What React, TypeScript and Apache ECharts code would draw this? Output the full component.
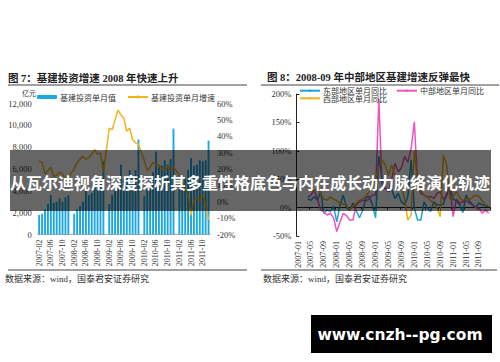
import React, { useEffect, useRef } from 'react';
import * as echarts from 'echarts';

const SERIF = '"Liberation Serif", "Noto Sans CJK SC", serif';
const CJK = '"Noto Sans CJK SC", sans-serif';

function months(y: number, m: number, n: number): string[] {
  const out: string[] = [];
  for (let k = 0; k < n; k++) {
    const mm = m - 1 + k;
    out.push(`${y + Math.floor(mm / 12)}-${String((mm % 12) + 1).padStart(2, '0')}`);
  }
  return out;
}

// Left chart: 2007-02 .. 2011-12
const leftMonths = months(2007, 2, 59);
const infraMonthly: (number | null)[] = [
  1800, 1900, 2300, 2800, 3600, 2900, 3000, 3300, 3000, 3400, 3600, null,
  1900, 2300, 2600, 3000, 4400, 3600, 3800, 4400, 4100, 4800, 6700, null,
  2800, 3600, 4000, 4600, 6400, 5100, 5200, 5900, 5300, 5900, 8700, null,
  3500, 4300, 4800, 5700, 7600, 6200, 6300, 6800, 6400, 6900, 9700, null,
  4100, 4800, 5200, 5900, 7000, 6300, 6400, 6800, 6700, 6800, 8600,
];
const infraGrowth: (number | null)[] = [
  25, 24, 17, 19, 21, 15.6, 16, 18, 17, 13.6, 15, null,
  20, 24, 26, 28, 26, 27, 29, 32, 29, 30, 18, null,
  45, 44, 50, 56, 53, 51, 43, 45, 38, 36, 35, null,
  25, 19, 21, 24, 23, 22.5, 20, 19, 21.7, 19, 21, null,
  16.5, 12, 8, 4, -8, 1, 2, 0.5, 4.4, -1.7, -11,
];

// Right chart: 2007-01 .. 2011-12
const rightMonths = months(2007, 1, 60);
const eastYoY: (number | null)[] = [
  null, null, null, 15, 13, 19, 13, 28, -10, -4, -7, 2,
  -25, 5, 22, 0, -5, 8, -5, -18, -5, 17, 20, 5,
  -18, 90, 50, 35, 28, 32, 16, 25, 10, 5, 20, 84,
  -1, -22, -22, 10, 0, -7, 10, 5, 4.6, 6, 25, 40,
  15, 12, 5, -9, 22, 12, 5, 0, 8, 5, 3, 1.6,
];
const centralYoY: (number | null)[] = [
  null, null, null, 18, 22, 31, 15, -4, -8, -13, -10, -18,
  -42, -25, -10, -14, -22, -22, 5, 10, 13, 12, 15, 22,
  22, 192, 40, 33, 28, 50, 78, 63, 70, 90, 80, 104,
  151, 40, 25, 22, 18, 20, 16, 25, 28, 15, 20, 37,
  -16, 15, 8, 10, 12, 8, 5, 0, -1, -10, -4, -10,
];
const westYoY: (number | null)[] = [
  null, null, null, 40, 32, 28, 32, 25, 15, 13, 19, 15,
  12, 8, 6, 4.5, -4, 2, 8, 13, 15, 20, 28, 35,
  52, 70, 84, 75, 57, 75, 57, 45, 40, 13, -22, -13,
  100, 46, 30, 22, 19, 12, 8, 0, -16, 92, 75, 15,
  20, 28, 18, 12, 16, 14, 18, 22, 20, 12, 4.6, 3,
];

const labelStyle = { fontSize: 8.5, color: '#333', fontFamily: SERIF };
const legendText = { fontSize: 8, color: '#333', fontFamily: CJK, lineHeight: 9, padding: [0, 0, 0, -2] };

const option: any = {
  animation: false,
  backgroundColor: '#ffffff',
  textStyle: { fontFamily: SERIF },
  grid: [
    { left: 37.7, top: 103.5, width: 172.3, height: 131 },
    { left: 296.4, top: 94, width: 193.9, height: 142 },
  ],
  legend: [
    {
      left: 37, top: 92.5, padding: 0, itemWidth: 20, itemHeight: 4, itemGap: 11,
      textStyle: legendText,
      data: ['基建投资单月值', '基建投资单月增速'],
    },
    {
      left: 299, top: 86.2, padding: 0, itemWidth: 20, itemHeight: 3, itemGap: 9,
      textStyle: legendText,
      data: ['东部地区单月同比', '中部地区单月同比'],
    },
    {
      left: 299, top: 93.8, padding: 0, itemWidth: 20, itemHeight: 3,
      textStyle: legendText,
      data: ['西部地区单月同比'],
    },
  ],
  xAxis: [
    {
      gridIndex: 0, type: 'category', data: leftMonths,
      axisLine: { show: true, lineStyle: { color: '#aaa', width: 1 } },
      axisTick: { show: false },
      axisLabel: { ...labelStyle, fontSize: 8, rotate: 90, interval: 3, margin: 5 },
    },
    {
      gridIndex: 1, type: 'category', data: rightMonths,
      axisLine: { show: false, onZero: false },
      axisTick: { show: false },
      axisLabel: { ...labelStyle, fontSize: 8, rotate: 90, interval: 3, margin: 5 },
    },
    {
      gridIndex: 1, type: 'category', data: rightMonths, position: 'bottom',
      axisLine: { show: true, onZero: true, lineStyle: { color: '#222', width: 1 } },
      axisTick: { show: true, interval: 3, length: 2, lineStyle: { color: '#222' } },
      axisLabel: { show: false },
    },
  ],
  yAxis: [
    {
      gridIndex: 0, type: 'value', min: 0, max: 12000, interval: 2000,
      axisLine: { show: false }, axisTick: { show: false }, splitLine: { show: false },
      axisLabel: { ...labelStyle, margin: 6 },
    },
    {
      gridIndex: 0, type: 'value', position: 'right', min: -20, max: 60, interval: 10,
      axisLine: { show: false }, axisTick: { show: false }, splitLine: { show: false },
      axisLabel: { ...labelStyle, margin: 7, formatter: '{value}%' },
    },
    {
      gridIndex: 1, type: 'value', min: -50, max: 200, interval: 50,
      axisLine: { show: true, lineStyle: { color: '#222', width: 1 } },
      axisTick: { show: true, inside: true, length: 3, lineStyle: { color: '#222' } },
      splitLine: { show: false },
      axisLabel: { ...labelStyle, margin: 5, formatter: '{value}%' },
    },
  ],
  series: [
    {
      name: '基建投资单月值', type: 'bar', xAxisIndex: 0, yAxisIndex: 0,
      data: infraMonthly, barCategoryGap: '35%', itemStyle: { color: '#1BA7E2' },
    },
    {
      name: '基建投资单月增速', type: 'line', xAxisIndex: 0, yAxisIndex: 1,
      data: infraGrowth, connectNulls: true, symbol: 'none', z: 5,
      lineStyle: { color: '#F4B41A', width: 1.5 }, itemStyle: { color: '#F4B41A' },
    },
    {
      name: '东部地区单月同比', type: 'line', xAxisIndex: 1, yAxisIndex: 2,
      data: eastYoY, symbol: 'none',
      lineStyle: { color: '#1BA3DD', width: 1.5 }, itemStyle: { color: '#1BA3DD' },
    },
    {
      name: '中部地区单月同比', type: 'line', xAxisIndex: 1, yAxisIndex: 2,
      data: centralYoY, symbol: 'none',
      lineStyle: { color: '#F052BE', width: 1.5 }, itemStyle: { color: '#F052BE' },
    },
    {
      name: '西部地区单月同比', type: 'line', xAxisIndex: 1, yAxisIndex: 2,
      data: westYoY, symbol: 'none',
      lineStyle: { color: '#EDB21C', width: 1.5 }, itemStyle: { color: '#EDB21C' },
    },
  ],
  graphic: [
    { type: 'text', x: 8, y: 78, style: { text: '图 7：基建投资增速 2008 年快速上升', fontSize: 10.5, fontWeight: 'bold', fontFamily: SERIF, fill: '#222', verticalAlign: 'middle' } },
    { type: 'text', x: 267, y: 77, style: { text: '图 8：2008-09 年中部地区基建增速反弹最快', fontSize: 10.5, fontWeight: 'bold', fontFamily: SERIF, fill: '#222', verticalAlign: 'middle' } },
    { type: 'line', shape: { x1: 8, y1: 85, x2: 247, y2: 85 }, style: { stroke: '#444', lineWidth: 1.2 } },
    { type: 'line', shape: { x1: 261, y1: 85, x2: 499, y2: 85 }, style: { stroke: '#444', lineWidth: 1.2 } },
    { type: 'text', x: 22, y: 93, style: { text: '亿元', fontSize: 7, fontFamily: CJK, fill: '#333', verticalAlign: 'middle' } },
    { type: 'line', shape: { x1: 8, y1: 270, x2: 247, y2: 270 }, style: { stroke: '#444', lineWidth: 1.2 } },
    { type: 'line', shape: { x1: 261, y1: 270, x2: 497, y2: 270 }, style: { stroke: '#444', lineWidth: 1.2 } },
    { type: 'text', x: 5, y: 279, style: { text: '数据来源：wind，国泰君安证券研究', fontSize: 9, fontFamily: SERIF, fill: '#333', verticalAlign: 'middle' } },
    { type: 'text', x: 263, y: 279, style: { text: '数据来源：wind，国泰君安证券研究', fontSize: 9, fontFamily: SERIF, fill: '#333', verticalAlign: 'middle' } },
    { type: 'rect', z: 100, shape: { x: 10, y: 150, width: 481, height: 61 }, style: { fill: 'rgba(0,0,0,0.6)' } },
    { type: 'text', z: 101, x: 250, y: 182, style: { text: '从瓦尔迪视角深度探析其多重性格底色与内在成长动力脉络演化轨迹', fontSize: 16, fontWeight: 'bold', fontFamily: CJK, fill: '#ffffff', align: 'center', verticalAlign: 'middle' } },
    { type: 'rect', z: 100, shape: { x: 311, y: 315, width: 181, height: 38 }, style: { fill: '#000000' } },
    { type: 'text', z: 101, x: 400, y: 335, style: { text: 'www.cnzh--pg.com', fontSize: 15.5, fontWeight: 'bold', fontFamily: '"DejaVu Sans", sans-serif', fill: '#ffffff', align: 'center', verticalAlign: 'middle' } },
  ],
};

export default function App() {
  const ref = useRef<HTMLDivElement>(null);
  useEffect(() => {
    const chart = echarts.init(ref.current!, null, { renderer: 'svg' });
    chart.setOption(option);
    return () => chart.dispose();
  }, []);
  return (
    <div
      ref={ref}
      style={{ position: 'absolute', left: 0, top: 0, width: 500, height: 362, background: '#fff' }}
    />
  );
}
